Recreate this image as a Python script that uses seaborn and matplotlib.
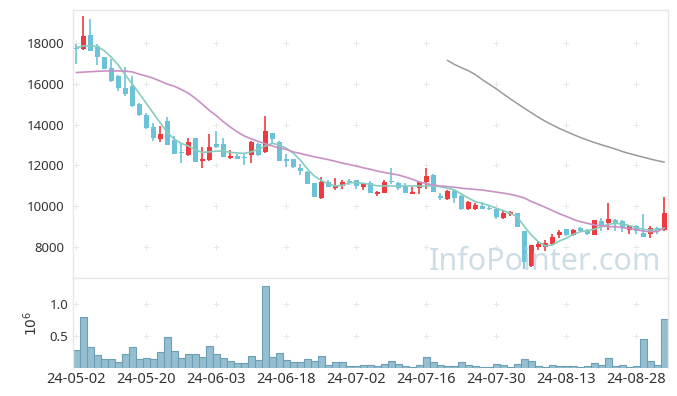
import numpy as np
import pandas as pd
import matplotlib
matplotlib.use("Agg")
import matplotlib.pyplot as plt
import seaborn as sns

# price data (OHLC), trading-day index 0..84
opens = [17750, 17720, 18390, 17850, 17310, 16760, 16400, 15790, 15890, 15010,
         14460, 13880, 13310, 14180, 13245, 12640, 12520, 13330, 12230, 12280,
         13050, 13050, 12380, 12460, 12410, 12500, 13050, 12670, 13575, 13160,
         12300, 12300, 11870, 11680, 11120, 10420, 11190, 10890, 10990, 11220,
         11270, 10960, 11120, 10615, 10665, 11235, 11140, 10990, 10615, 10905,
         11185, 11530, 10500, 10340, 10730, 10515, 9850, 9880, 10010, 9930,
         9865, 9440, 9600, 9650, 8800, 7070, 8015, 7985, 8145, 8590,
         8865, 8590, 8930, 8785, 8605, 9275, 9190, 9325, 9260, 8835,
         9030, 8670, 8620, 8945, 8835]
highs = [17950, 19320, 19160, 17950, 17330, 17200, 16420, 16800, 16380, 15050,
         14550, 14100, 13950, 14360, 13440, 13080, 13330, 13330, 12890, 13525,
         13670, 13330, 12740, 12580, 12620, 13200, 13100, 14420, 13600, 13200,
         12545, 12320, 12070, 11700, 11120, 11450, 11290, 11400, 11300, 11350,
         11280, 11100, 11240, 10720, 11300, 11860, 11200, 11130, 10925, 11200,
         11860, 11560, 10660, 10780, 10800, 10550, 10260, 10180, 10200, 10020,
         9880, 9800, 9780, 9680, 8800, 8100, 8310, 8340, 8640, 8850,
         8900, 8870, 8960, 8900, 9330, 9420, 10140, 9350, 9300, 9080,
         9080, 9600, 9045, 8980, 10440]
lows = [16950, 17650, 17600, 16920, 16700, 16100, 15650, 15400, 14880, 14400,
        13780, 13200, 13130, 13000, 12540, 12130, 12480, 12180, 11860, 12230,
        12850, 12400, 12300, 12300, 12000, 12130, 12480, 12600, 13030, 12200,
        11935, 11880, 11530, 11080, 10460, 10340, 10940, 10790, 10860, 11040,
        10840, 10810, 10660, 10500, 10660, 11070, 10780, 10650, 10600, 10580,
        10830, 10690, 10320, 10300, 10160, 9820, 9800, 9800, 9850, 9820,
        9360, 9360, 9500, 8990, 6940, 7000, 7850, 7800, 8100, 8430,
        8560, 8560, 8760, 8600, 8600, 8770, 8850, 8770, 8750, 8640,
        8640, 8480, 8425, 8620, 8800]
closes = [17700, 18340, 17620, 17300, 16740, 16150, 15810, 15515, 14910, 14450,
          13820, 13330, 13540, 13020, 12560, 12590, 13150, 12180, 12310, 12890,
          12920, 12430, 12460, 12330, 12380, 13150, 12525, 13690, 13295, 12230,
          12215, 11905, 11740, 11100, 10470, 11190, 10960, 11020, 11200, 11170,
          10990, 11090, 10665, 10695, 11185, 11200, 10910, 10665, 10695, 11185,
          11480, 10695, 10420, 10730, 10420, 9865, 10220, 10060, 9880, 9850,
          9485, 9680, 9730, 8995, 7250, 8100, 8145, 8210, 8505, 8750,
          8570, 8835, 8785, 8620, 9320, 9045, 9370, 9125, 8915, 9030,
          8800, 8505, 8945, 8835, 9680]

# moving averages
ma_short = [17770, 17850, 17870, 17820, 17620, 17300, 16920, 16430, 15990, 15520,
            15040, 14560, 14080, 13620, 13280, 13080, 12950, 12760, 12640, 12660,
            12700, 12700, 12640, 12610, 12590, 12660, 12790, 12950, 13080, 13000,
            12840, 12600, 12260, 11830, 11480, 11260, 11090, 10990, 11020, 11150,
            11150, 11120, 11060, 11000, 10990, 10990, 10990, 10990, 10990, 10990,
            10990, 11000, 10960, 10880, 10800, 10600, 10400, 10220, 10140, 10025,
            9900, 9780, 9650, 9480, 9000, 8590, 8260, 8050, 8100, 8290,
            8430, 8620, 8750, 8800, 8870, 8995, 9110, 9160, 9130, 9045,
            8950, 8870, 8830, 8830, 8920]
ma_mid = [16550, 16570, 16590, 16610, 16625, 16630, 16630, 16620, 16580, 16470,
          16380, 16270, 16130, 15980, 15880, 15720, 15540, 15290, 15000, 14700,
          14440, 14140, 13880, 13640, 13440, 13300, 13170, 13060, 12950, 12860,
          12780, 12660, 12580, 12500, 12420, 12350, 12280, 12200, 12110, 12040,
          11970, 11880, 11810, 11720, 11650, 11590, 11530, 11430, 11320, 11190,
          11100, 11040, 10990, 10960, 10930, 10880, 10850, 10820, 10790, 10740,
          10690, 10640, 10580, 10500, 10400, 10230, 10090, 9940, 9790, 9630,
          9500, 9350, 9240, 9160, 9080, 9040, 9000, 8990, 8950, 8910,
          8850, 8780, 8750, 8760, 8920]
ma_long = [np.nan] * 53 + [
    17150, 16950, 16790, 16640, 16450, 16200, 15980, 15750, 15500, 15260,
    15030, 14800, 14580, 14360, 14160, 13980, 13810, 13660, 13510, 13370,
    13240, 13120, 13010, 12910, 12800, 12680, 12580, 12490, 12400, 12310,
    12230, 12160]

volume = [286000, 794000, 333000, 206000, 143000, 143000, 95000, 222000, 333000, 143000,
          159000, 143000, 254000, 492000, 270000, 159000, 222000, 222000, 175000, 349000,
          222000, 159000, 111000, 79000, 79000, 190000, 127000, 1286000, 175000, 238000,
          127000, 95000, 95000, 143000, 111000, 190000, 48000, 95000, 85000, 32000,
          32000, 48000, 48000, 32000, 63000, 116000, 63000, 32000, 16000, 48000,
          175000, 95000, 48000, 32000, 32000, 95000, 48000, 32000, 16000, 16000,
          63000, 48000, 16000, 63000, 143000, 111000, 32000, 16000, 48000, 32000,
          32000, 32000, 16000, 32000, 79000, 48000, 159000, 32000, 48000, 16000,
          32000, 460000, 111000, 48000, 762000]

tick_idx = [0, 10, 20, 30, 40, 50, 60, 70, 80]
tick_labels = ['24-05-02', '24-05-20', '24-06-03', '24-06-18', '24-07-02',
               '24-07-16', '24-07-30', '24-08-13', '24-08-28']
price_ticks = [8000, 10000, 12000, 14000, 16000, 18000]
vol_ticks = [0.5, 1.0]

df = pd.DataFrame({'open': opens, 'high': highs, 'low': lows, 'close': closes,
                   'ma5': ma_short, 'ma20': ma_mid, 'ma120': ma_long,
                   'volume': volume})
df['idx'] = np.arange(len(df))
df['vol_m'] = df['volume'] / 1e6

sns.set_theme(style='white')
plt.rcParams['font.family'] = ['Noto Sans', 'DejaVu Sans']

UP = '#ef3a3f'
DOWN = '#6cc2d8'
FRAME = '#e6e6e6'
TXT = '#333333'

fig = plt.figure(figsize=(6.77, 3.96), dpi=100)
ax = fig.add_axes([0.108, 0.298, 0.879, 0.677])
ax2 = fig.add_axes([0.108, 0.071, 0.879, 0.227], sharex=ax)

# faint "+" grid marks at tick crossings
gx, gy = np.meshgrid(tick_idx, price_ticks)
ax.plot(gx.ravel(), gy.ravel(), '+', color='#e8e8e8', ms=4, mew=0.7, zorder=0)
gx2, gy2 = np.meshgrid(tick_idx, vol_ticks)
ax2.plot(gx2.ravel(), gy2.ravel(), '+', color='#e8e8e8', ms=4, mew=0.7, zorder=0)

# watermark
ax.text(0.988, 0.03, 'InfoPointer.com', transform=ax.transAxes, ha='right',
        va='baseline', fontsize=22, color='#b8cfdb',
        alpha=0.7, zorder=5, family=['Noto Sans', 'DejaVu Sans'])

# candles
up = df['close'] >= df['open']
cols = np.where(up, UP, DOWN)
ax.vlines(df['idx'], df['low'], df['high'], colors=cols, lw=1.2, zorder=2)
body_lo = np.minimum(df['open'], df['close'])
body_h = np.maximum(np.abs(df['close'] - df['open']), 40)
ax.bar(df['idx'], body_h, bottom=body_lo, width=0.7, color=cols, zorder=3,
       linewidth=0)

# moving averages
sns.lineplot(data=df, x='idx', y='ma5', ax=ax, color='#86cdc0', lw=1.2, zorder=4)
sns.lineplot(data=df, x='idx', y='ma20', ax=ax, color='#c990c6', lw=1.2, zorder=4)
sns.lineplot(data=df, x='idx', y='ma120', ax=ax, color='#9a9a9a', lw=1.1, zorder=4)

ax.set_xlim(-0.45, 84.55)
ax.set_ylim(6480, 19620)
ax.set_yticks(price_ticks)
ax.set_yticklabels([str(v) for v in price_ticks])
ax.set_xlabel('')
ax.set_ylabel('')
ax.tick_params(axis='x', labelbottom=False, length=0)
ax.tick_params(axis='y', length=0, labelsize=9.5, labelcolor=TXT, pad=6)

# volume
sns.barplot(data=df, x='idx', y='vol_m', native_scale=True, width=1.0,
            color='#95bfd0', edgecolor='#6c9fb6', linewidth=0.8, saturation=1,
            errorbar=None, ax=ax2, zorder=2)
ax2.set_ylim(0, 1.413)
ax2.set_yticks(vol_ticks)
ax2.set_yticklabels(['0.5', '1.0'])
ax2.set_xticks(tick_idx)
ax2.set_xticklabels(tick_labels)
ax2.set_xlim(-0.45, 84.55)
ax2.set_xlabel('')
ax2.set_ylabel(r'$10^6$', color=TXT, fontsize=10, labelpad=6)
ax2.tick_params(axis='y', length=0, labelsize=9.5, labelcolor=TXT)
ax2.tick_params(axis='x', length=0, labelsize=10.5, labelcolor=TXT, pad=3)

for a in (ax, ax2):
    for s in a.spines.values():
        s.set_color(FRAME)
        s.set_linewidth(1.0)
ax2.spines['bottom'].set_visible(False)

fig.savefig('out.png', dpi=100, facecolor='white')
